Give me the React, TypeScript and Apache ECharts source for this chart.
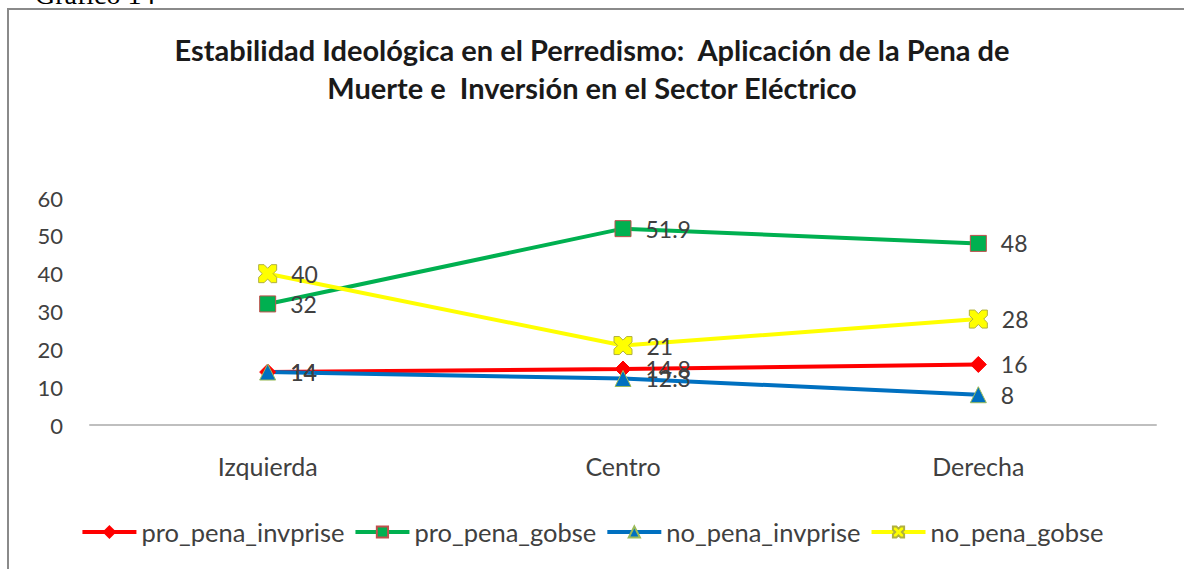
import React, { useEffect, useRef } from "react";
import * as echarts from "echarts";

const categories = ["Izquierda", "Centro", "Derecha"];
const proPenaInvprise = [14, 14.8, 16];
const proPenaGobse = [32, 51.9, 48];
const noPenaInvprise = [14, 12.3, 8];
const noPenaGobse = [40, 21, 28];
const yTicks = [0, 10, 20, 30, 40, 50, 60];
const seriesNames = ["pro_pena_invprise", "pro_pena_gobse", "no_pena_invprise", "no_pena_gobse"];

const X_PATH =
  "path://M0,0 L3,0 L5,2 L7,0 L10,0 L10,3 L8,5 L10,7 L10,10 L7,10 L5,8 L3,10 L0,10 L0,7 L2,5 L0,3 Z";

const FONT = "Lato";

export default function App() {
  const ref = useRef<HTMLDivElement>(null);
  useEffect(() => {
    document.body.style.margin = "0";
    const chart = echarts.init(ref.current!, null, { renderer: "svg" });
    const labelStyle = {
      show: true,
      position: "right" as const,
      distance: 14,
      fontSize: 23,
      color: "#404040",
      fontFamily: FONT,
    };
    const mk = (
      name: string,
      data: number[],
      color: string,
      symbol: string,
      symbolSize: number,
      borderColor: string
    ) => ({
      name,
      type: "line",
      data,
      symbol,
      symbolSize,
      lineStyle: { color, width: 4 },
      itemStyle: { color, borderColor, borderWidth: 1 },
      label: labelStyle,
      z: 3,
    });
    chart.setOption({
      animation: false,
      backgroundColor: "#ffffff",
      title: {
        text: "Estabilidad Ideológica en el Perredismo:  Aplicación de la Pena de\nMuerte e  Inversión en el Sector Eléctrico",
        left: "center",
        top: 25,
        textStyle: {
          fontSize: 29,
          fontWeight: "bold",
          fontFamily: FONT,
          color: "#1a1a1a",
          lineHeight: 38,
        },
      },
      graphic: [
        {
          type: "rect",
          shape: { x: 8, y: 9, width: 1200, height: 600 },
          style: { fill: "none", stroke: "#8a8a8a", lineWidth: 2 },
          silent: true,
          z: -1,
        },
        {
          type: "text",
          x: 35,
          y: 8,
          style: {
            text: "Gráfico 14",
            fontSize: 28,
            fontFamily: "Liberation Serif",
            fill: "#000",
            verticalAlign: "bottom",
          },
        },
      ],
      legend: {
        data: seriesNames,
        bottom: 19,
        left: "center",
        itemWidth: 54,
        itemHeight: 14,
        itemGap: 9,
        lineStyle: { width: 4 },
        textStyle: { fontSize: 25.5, color: "#404040", fontFamily: FONT },
      },
      grid: { left: 90, right: 28, top: 198, bottom: 144 },
      xAxis: {
        type: "category",
        data: categories,
        boundaryGap: true,
        axisLine: { lineStyle: { color: "#bfbfbf", width: 2 } },
        axisTick: { show: false },
        axisLabel: { fontSize: 25, color: "#404040", fontFamily: FONT, margin: 28 },
      },
      yAxis: {
        type: "value",
        min: 0,
        max: 60,
        interval: 10,
        axisLine: { show: false },
        axisTick: { show: false },
        splitLine: { show: false },
        axisLabel: {
          fontSize: 22,
          color: "#404040",
          fontFamily: FONT,
          margin: 27,
          formatter: (v: number) => (yTicks.includes(v) ? String(v) : ""),
        },
      },
      series: [
        mk(seriesNames[0], proPenaInvprise, "#ff0000", "diamond", 16, "#ff0000"),
        mk(seriesNames[1], proPenaGobse, "#00b050", "rect", 16, "#c0504d"),
        mk(seriesNames[2], noPenaInvprise, "#0070c0", "triangle", 16, "#9bbb59"),
        mk(seriesNames[3], noPenaGobse, "#ffff00", X_PATH, 18, "#b0b040"),
      ],
    });
    return () => chart.dispose();
  }, []);
  return <div ref={ref} style={{ width: 1184, height: 569 }} />;
}
